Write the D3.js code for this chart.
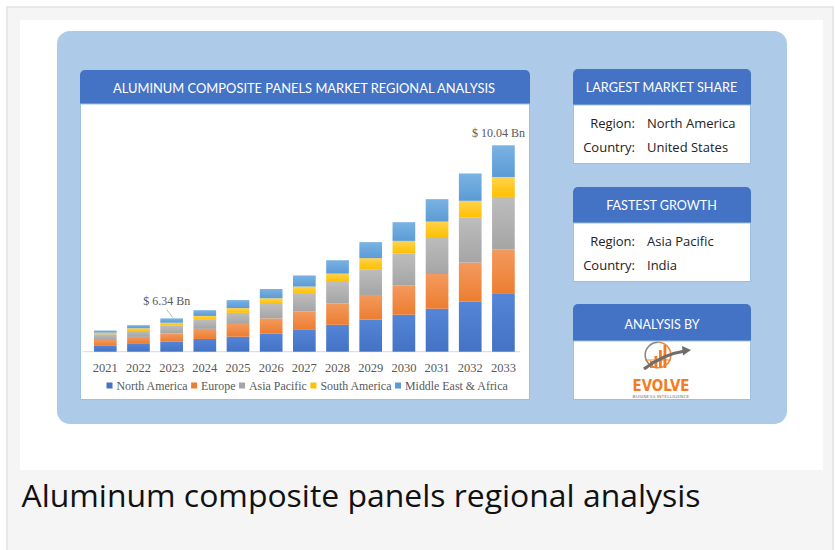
<!DOCTYPE html>
<html><head><meta charset="utf-8">
<script src="https://cdnjs.cloudflare.com/ajax/libs/d3/7.8.5/d3.min.js"></script>
<style>body{margin:0;background:#fff}svg{display:block}</style>
</head><body>
<script>
const years = ["2021","2022","2023","2024","2025","2026","2027","2028","2029","2030","2031","2032","2033"];
const seriesNames = ["North America","Europe","Asia Pacific","South America","Middle East & Africa"];
const northAmerica = [0.31,0.41,0.50,0.62,0.73,0.89,1.09,1.31,1.56,1.80,2.09,2.43,2.81];
const europe       = [0.26,0.31,0.39,0.49,0.62,0.73,0.86,1.04,1.20,1.43,1.69,1.91,2.17];
const asiaPacific  = [0.28,0.29,0.39,0.44,0.54,0.70,0.86,1.04,1.25,1.54,1.80,2.19,2.55];
const southAmerica = [0.08,0.13,0.13,0.19,0.23,0.28,0.36,0.41,0.54,0.62,0.75,0.81,0.97];
const middleEast   = [0.10,0.15,0.21,0.28,0.39,0.45,0.54,0.65,0.78,0.91,1.09,1.33,1.54];
const valueLabels = [{year:"2023", text:"$ 6.34 Bn", leader:true},{year:"2033", text:"$ 10.04 Bn", leader:false}];
const colors = ["#4472c4","#ed7d31","#a5a5a5","#ffc000","#5b9bd5"];
const lightColors = ["#5585d6","#f39a5e","#bdbdbd","#ffd24d","#7ab3e3"];
const title = "ALUMINUM COMPOSITE PANELS MARKET REGIONAL ANALYSIS";
const caption = "Aluminum composite panels regional analysis";
const infoBoxes = [
  {head:"LARGEST MARKET SHARE", size:12.7, rows:[["Region:","North America"],["Country:","United States"]]},
  {head:"FASTEST GROWTH", size:12.6, rows:[["Region:","Asia Pacific"],["Country:","India"]]}
];

const W=836,H=550;
const svg=d3.select("body").append("svg").attr("width",W).attr("height",H);
const defs=svg.append("defs");
colors.forEach((c,i)=>{
  const g=defs.append("linearGradient").attr("id","g"+i).attr("x1",0).attr("y1",0).attr("x2",0).attr("y2",1);
  g.append("stop").attr("offset","0%").attr("stop-color",lightColors[i]);
  g.append("stop").attr("offset","100%").attr("stop-color",c);
});

// page frame
svg.append("rect").attr("x",7).attr("y",7).attr("width",826).attr("height",560).attr("fill","#f5f5f5").attr("stroke","#e2e2e2").attr("stroke-width",1.5);
svg.append("rect").attr("x",20).attr("y",20).attr("width",803).attr("height",450).attr("fill","#ffffff");
svg.append("rect").attr("x",57).attr("y",31).attr("width",730).attr("height",393).attr("rx",13).attr("fill","#adcbe8");
svg.append("text").attr("x",21.5).attr("y",506.5).attr("font-family","Open Sans").attr("font-size",30.5).attr("fill","#111")
  .attr("textLength",679).attr("lengthAdjust","spacingAndGlyphs").text(caption);

// chart panel
function panel(x,y,w,h,hh){
  svg.append("rect").attr("x",x).attr("y",y).attr("width",w).attr("height",h).attr("rx",5).attr("fill","#4472c4");
  svg.append("rect").attr("x",x+0.5).attr("y",y+hh).attr("width",w-1).attr("height",h-hh-0.5).attr("fill","#fff").attr("stroke","#9cc0e4").attr("stroke-width",1);
}
panel(80,70,450,330,34);
svg.append("text").attr("x",304).attr("y",92.5).attr("text-anchor","middle").attr("font-family","Lato").attr("font-size",12.9).attr("fill","#fff").text(title);

const x=d3.scaleBand().domain(years).range([88.7,520]).paddingInner(0.316).paddingOuter(0.158);
const y=d3.scaleLinear().domain([0,10.04]).range([351.7,145.3]);

const table=years.map((yr,i)=>({year:yr,v:[northAmerica[i],europe[i],asiaPacific[i],southAmerica[i],middleEast[i]]}));
const stacked=d3.stack().keys([0,1,2,3,4]).value((d,k)=>d.v[k])(table);

svg.append("line").attr("x1",83).attr("x2",520).attr("y1",y(0)).attr("y2",y(0)).attr("stroke","#d9d9d9");

stacked.forEach((layer,i)=>{
  svg.append("g").selectAll("rect").data(layer).join("rect")
    .attr("x",d=>x(d.data.year)).attr("width",x.bandwidth())
    .attr("y",d=>y(d[1])).attr("height",d=>y(d[0])-y(d[1]))
    .attr("fill","url(#g"+i+")");
});

svg.append("g").selectAll("text").data(years).join("text")
  .attr("x",d=>x(d)+x.bandwidth()/2).attr("y",372).attr("text-anchor","middle")
  .attr("font-family","Liberation Serif").attr("font-size",12.5).attr("fill","#595959").text(d=>d);

// value labels
const totals=table.map(d=>d3.sum(d.v));
valueLabels.forEach(l=>{
  const i=years.indexOf(l.year);
  const cx=x(l.year)+x.bandwidth()/2, top=y(totals[i]);
  if(l.leader){
    svg.append("text").attr("x",cx-5).attr("y",top-13).attr("text-anchor","middle").attr("font-family","Liberation Serif").attr("font-size",12).attr("fill","#595959").text(l.text);
    svg.append("line").attr("x1",cx-5).attr("y1",top-9).attr("x2",cx+1).attr("y2",top-1).attr("stroke","#a6a6a6").attr("stroke-width",0.8);
  } else {
    svg.append("text").attr("x",cx-5).attr("y",top-8).attr("text-anchor","middle").attr("font-family","Liberation Serif").attr("font-size",12).attr("fill","#595959").text(l.text);
  }
});

// legend
let lx=106.5;
seriesNames.forEach((n,i)=>{
  svg.append("rect").attr("x",lx).attr("y",382.5).attr("width",6).attr("height",6).attr("fill",colors[i]);
  const t=svg.append("text").attr("x",lx+10).attr("y",390).attr("font-family","Liberation Serif").attr("font-size",11.9).attr("fill","#595959").text(n);
  lx+=10+t.node().getComputedTextLength()+3.6;
});

// info boxes
const boxTops=[69,187];
infoBoxes.forEach((b,k)=>{
  const t0=boxTops[k];
  panel(573,t0,178,95,36);
  svg.append("text").attr("x",661.5).attr("y",t0+23).attr("text-anchor","middle").attr("font-family","Lato").attr("font-size",b.size).attr("fill","#fff").text(b.head);
  b.rows.forEach((r,j)=>{
    const yy=t0+58.5+j*24;
    svg.append("text").attr("x",635).attr("y",yy).attr("text-anchor","end").attr("font-family","Open Sans").attr("font-size",13).attr("fill","#222").text(r[0]);
    svg.append("text").attr("x",647).attr("y",yy).attr("font-family","Open Sans").attr("font-size",13).attr("fill","#222").text(r[1]);
  });
});
panel(573,304,178,96,37);
svg.append("text").attr("x",662).attr("y",328.5).attr("text-anchor","middle").attr("font-family","Lato").attr("font-size",12.5).attr("fill","#fff").text("ANALYSIS BY");

// logo
const lg=svg.append("g");
const arc=d3.arc().innerRadius(12).outerRadius(13.6);
lg.append("path").attr("transform","translate(658,355)").attr("d",arc({startAngle:-Math.PI*0.95,endAngle:0.05})).attr("fill","#8a8a8a");
lg.append("path").attr("transform","translate(658,355)").attr("d",arc({startAngle:0.05,endAngle:Math.PI*1.05})).attr("fill","#f08a3c");
[[650,361,2.8,7],[654.5,356,2.8,12],[659,350,2.8,18],[663.5,345,2.8,23]].forEach(b=>{
  lg.append("rect").attr("x",b[0]).attr("y",b[1]).attr("width",b[2]).attr("height",b[3]).attr("fill","#f47c20");
});
lg.append("line").attr("x1",645).attr("x2",671).attr("y1",360).attr("y2",360).attr("stroke","#f47c20").attr("stroke-width",1);
lg.append("path").attr("d","M644,369 Q664,354 685,351").attr("fill","none").attr("stroke","#6d6d6d").attr("stroke-width",3.2);
lg.append("path").attr("d","M682,346 L691,350 L683,355.5 Z").attr("fill","#6d6d6d");
lg.append("text").attr("x",661).attr("y",391).attr("text-anchor","middle").attr("font-family","DejaVu Sans").attr("font-weight","bold").attr("font-size",15).attr("fill","#f47c20").attr("textLength",57).attr("lengthAdjust","spacingAndGlyphs").text("EVOLVE");
lg.append("text").attr("x",661).attr("y",397.5).attr("text-anchor","middle").attr("font-family","DejaVu Sans").attr("font-size",4.2).attr("fill","#777").attr("textLength",57).attr("lengthAdjust","spacingAndGlyphs").text("BUSINESS INTELLIGENCE");
</script>
</body></html>
